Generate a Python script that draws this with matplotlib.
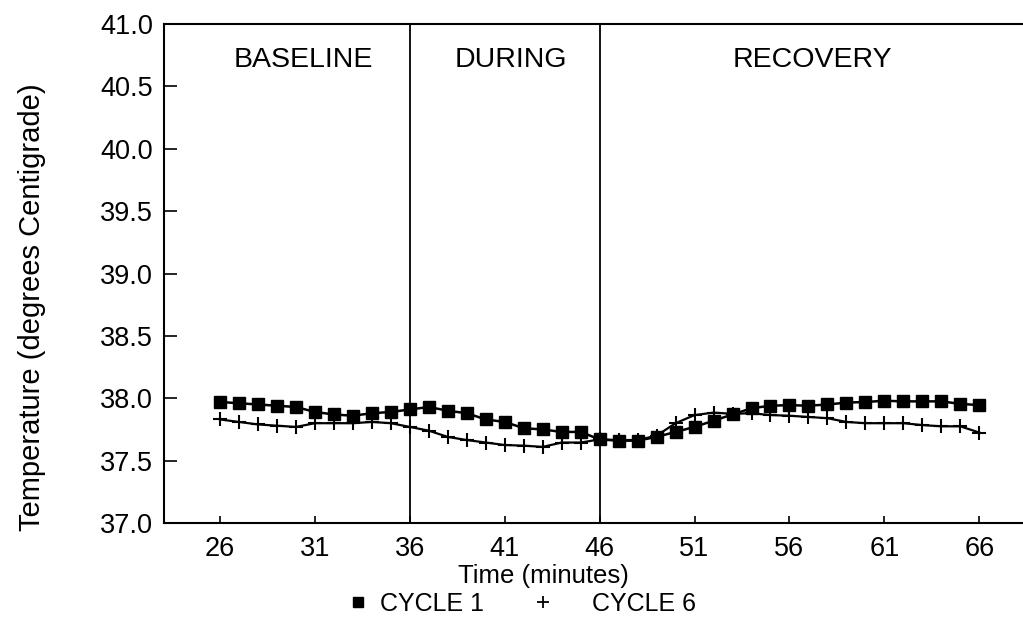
import matplotlib
matplotlib.use("Agg")
import matplotlib.pyplot as plt
from matplotlib.lines import Line2D

plt.rcParams['font.family'] = ['Liberation Sans', 'DejaVu Sans']

minutes = list(range(26, 67))
cycle1 = [37.97, 37.96, 37.95, 37.94, 37.93, 37.89, 37.87, 37.86, 37.88, 37.89,
          37.91, 37.93, 37.90, 37.88, 37.83, 37.81, 37.76, 37.75, 37.73, 37.73,
          37.67, 37.66, 37.66, 37.69, 37.73, 37.77, 37.82, 37.87, 37.92, 37.94,
          37.945, 37.94, 37.95, 37.965, 37.97, 37.98, 37.975, 37.975, 37.975, 37.955,
          37.945]
cycle6 = [37.83, 37.81, 37.79, 37.78, 37.77, 37.80, 37.80, 37.80, 37.81, 37.80,
          37.77, 37.74, 37.69, 37.665, 37.645, 37.625, 37.62, 37.61, 37.645, 37.645,
          37.67, 37.665, 37.665, 37.70, 37.80, 37.865, 37.885, 37.875, 37.88, 37.865,
          37.86, 37.85, 37.84, 37.81, 37.80, 37.80, 37.80, 37.785, 37.775, 37.775,
          37.725]
xticks = [26, 31, 36, 41, 46, 51, 56, 61, 66]
yticks = [37.0, 37.5, 38.0, 38.5, 39.0, 39.5, 40.0, 40.5, 41.0]
phase_bounds = [36, 46]
phase_labels = ["BASELINE", "DURING", "RECOVERY"]
phase_centers = [30.4, 41.3, 57.2]
series_labels = ["CYCLE 1", "CYCLE 6"]

fig = plt.figure(figsize=(10.23, 6.30), dpi=100)
ax = fig.add_axes([164/1023, 1 - 523/630, (1022 - 164)/1023, (523 - 24)/630])

ax.plot(minutes, cycle1, color='black', lw=1.8, marker='s', ms=8, label=series_labels[0])
ax.plot(minutes, cycle6, color='black', lw=1.6, marker='+', ms=10, mew=1.5, label=series_labels[1])

for b in phase_bounds:
    ax.axvline(b, color='black', lw=1.3)
for lab, c in zip(phase_labels, phase_centers):
    ax.text(c, 40.71, lab, ha='center', va='center', fontsize=20.5)

ax.set_xlim(23.05, 68.25)
ax.set_ylim(37.0, 41.0)
ax.set_xticks(xticks)
ax.set_yticks(yticks)
ax.set_yticklabels([f"{v:.1f}" for v in yticks])
ax.tick_params(axis='y', direction='in', length=9, width=1.2, labelsize=19.5, pad=8)
ax.tick_params(axis='x', direction='in', length=5, width=1.2, labelsize=19.5, pad=9)
ax.spines['right'].set_visible(False)
for s in ['left', 'top', 'bottom']:
    ax.spines[s].set_linewidth(1.5)

ax.set_xlabel("Time (minutes)", fontsize=18.5, labelpad=0)
ax.xaxis.set_label_coords((543 - 164) / 858, -(564 - 523) / 499)
ax.set_ylabel("Temperature (degrees Centigrade)", fontsize=21)
ax.yaxis.set_label_coords(-(164 - 46) / 858, (523 - 307) / 499)

fs = 18
h1 = Line2D([], [], color='black', marker='s', ms=7, ls='none')
h2 = Line2D([], [], color='black', marker='+', ms=8, mew=1.3, ls='none')
leg1 = fig.legend([h1], [series_labels[0]], loc='center left', bbox_to_anchor=(345.5/1023, 1 - 604/630),
                  frameon=False, fontsize=fs, handlelength=1.0, handletextpad=0.38,
                  borderpad=0, borderaxespad=0)
leg2 = fig.legend([h2], [series_labels[1]], loc='center left', bbox_to_anchor=(530.5/1023, 1 - 604/630),
                  frameon=False, fontsize=fs, handlelength=1.0, handletextpad=1.46,
                  borderpad=0, borderaxespad=0)

fig.savefig("out.png", dpi=100)
